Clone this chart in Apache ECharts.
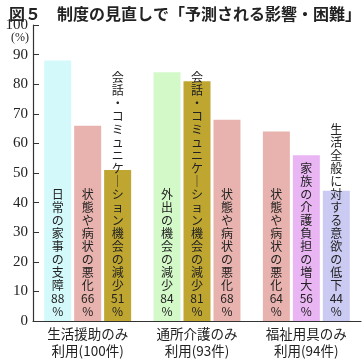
<!DOCTYPE html>
<html><head><meta charset="utf-8">
<script src="https://cdn.jsdelivr.net/npm/echarts@6/dist/echarts.min.js"></script>
<style>html,body{margin:0;padding:0;background:#fff}#c{width:363px;height:359px}</style>
</head><body><div id="c"></div>
<script>
const titleText = '図５　制度の見直しで「予測される影響・困難」';
const categories = ['生活援助のみ\n利用(100件)', '通所介護のみ\n利用(93件)', '福祉用具のみ\n利用(94件)'];
const yTicks = [0,10,20,30,40,50,60,70,80,90,100];
// bar position 1,2,3 in each group
const values1 = [88, 84, 64];
const values2 = [66, 81, 56];
const values3 = [51, 68, 44];
const names1 = ['日常の家事の支障', '外出の機会の減少', '状態や病状の悪化'];
const names2 = ['状態や病状の悪化', '会話・コミュニケーション機会の減少', '家族の介護負担の増大'];
const names3 = ['会話・コミュニケーション機会の減少', '状態や病状の悪化', '生活全般に対する意欲の低下'];
const colors1 = ['#d4f9fb', '#d3f9c8', '#e8b3ae'];
const colors2 = ['#e8b3ae', '#bfa631', '#e9b5f3'];
const colors3 = ['#bfa631', '#e8b3ae', '#cacaf3'];

function vert(s){ return Array.from(s.replace(/ー/g,'｜')).join('\n'); }
function mk(vals, names, cols){
  return vals.map((v,i)=>({
    value: v,
    itemStyle: {color: cols[i]},
    label: {formatter: vert(names[i]) + '\n' + v + '\n%'}
  }));
}
const labelStyle = {show:true, position:'insideBottom', distance:3, fontFamily:'Noto Sans CJK JP', fontSize:12, lineHeight:13, color:'#222'};
const chart = echarts.init(document.getElementById('c'));
chart.setOption({
  animation:false,
  title:{text:titleText, left:4, top:1, textStyle:{fontFamily:'Noto Sans CJK JP', fontSize:16, fontWeight:'bold', color:'#222'}},
  grid:{left:33, right:2, top:25, bottom:34},
  graphic:[{type:'text', left:11, top:32, style:{text:'(%)', fontFamily:'Liberation Serif', fontSize:12, fill:'#222'}}],
  xAxis:{type:'category', data:categories,
    axisLine:{lineStyle:{color:'#333', width:1.2}},
    axisTick:{inside:true, length:6, lineStyle:{color:'#333'}},
    axisLabel:{fontFamily:'Noto Sans CJK JP', fontSize:13.5, lineHeight:17, color:'#222', margin:4}},
  yAxis:{type:'value', min:0, max:100, interval:10, splitLine:{show:false},
    axisLine:{show:true, lineStyle:{color:'#333', width:1.2}},
    axisTick:{show:true, inside:true, length:6, lineStyle:{color:'#333'}},
    axisLabel:{fontFamily:'Liberation Serif', fontSize:15, color:'#222', margin:5,
      formatter:v=> yTicks.includes(v) ? String(v) : ''}},
  series:[
    {type:'bar', barWidth:27, barGap:'11%', data:mk(values1,names1,colors1), label:labelStyle},
    {type:'bar', barWidth:27, barGap:'11%', data:mk(values2,names2,colors2), label:labelStyle},
    {type:'bar', barWidth:27, barGap:'11%', data:mk(values3,names3,colors3), label:labelStyle}
  ]
});
</script></body></html>
